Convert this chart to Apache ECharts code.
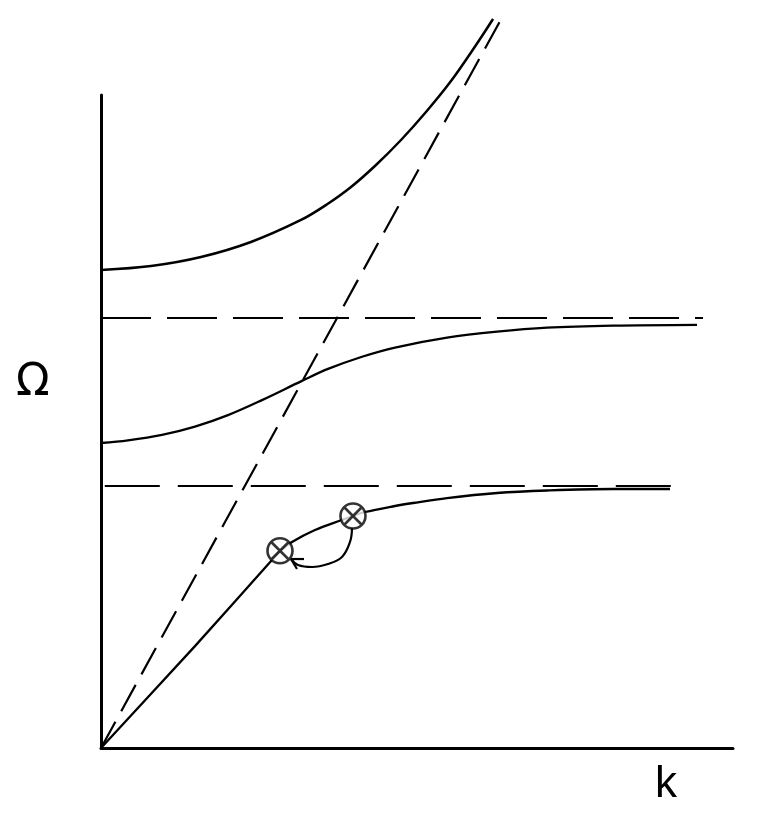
<!DOCTYPE html>
<html>
<head>
<meta charset="utf-8">
<script src="https://cdn.jsdelivr.net/npm/echarts@6/dist/echarts.min.js"></script>
<style>html,body{margin:0;padding:0;background:#fff}#c{width:757px;height:818px}</style>
</head>
<body>
<div id="c"></div>
<script>
// Dispersion branches (k, Omega) in arbitrary units
const upperBranch = [[0,7.32],[0.791,7.381],[1.582,7.519],[2.373,7.749],[3.165,8.086],[3.56,8.315],[3.956,8.591],[4.351,8.928],[4.747,9.311],[5.142,9.74],[5.538,10.214],[5.934,10.766],[6.203,11.164]];
const middleBranch = [[0,4.671],[0.427,4.712],[0.965,4.795],[1.487,4.922],[2.009,5.098],[2.547,5.328],[3.18,5.622],[3.592,5.805],[4.13,5.992],[4.652,6.133],[5.475,6.285],[6.266,6.377],[7.057,6.438],[8.101,6.469],[9.43,6.481]];
const lowerBranchLow = [[0,0],[1.487,1.56],[2.832,3.017]];
const lowerBranchHigh = [[2.832,3.017],[3.022,3.155],[3.386,3.338],[3.813,3.492],[3.987,3.553],[4.177,3.614],[4.652,3.706],[4.937,3.752],[5.475,3.828],[6.266,3.905],[7.057,3.943],[8.101,3.966],[9.003,3.966]];
const lightLine = [[0,0],[6.392,11.27]];
const upperLevel = [[0,6.585],[9.525,6.585]];
const lowerLevel = [[0.06,4.012],[9.209,4.012]];
const scatterPoints = [[2.832,3.02],[3.987,3.553]];
const returnArc = [[3.972,3.369],[3.94,3.155],[3.813,2.925],[3.592,2.818],[3.339,2.772],[3.117,2.802],[3.006,2.894]];
const arrowBarbA = [[3.006,2.894],[3.212,2.894]];
const arrowBarbB = [[3.006,2.894],[3.101,2.741]];
const xLabel = 'k';
const yLabel = 'Ω';

const chart = echarts.init(document.getElementById('c'));
const solid = (data, w, smooth) => ({type:'line', data, showSymbol:false, smooth: smooth, clip:false, silent:true,
  lineStyle:{color:'#000', width:w}, z:3});
const dashed = (data, w, pattern) => ({type:'line', data, showSymbol:false, clip:false, silent:true,
  lineStyle:{color:'#000', width:w, type:pattern}, z:2});
const crossCircle = 'path://M0,-10A10,10,0,1,1,0,10A10,10,0,1,1,0,-10Z M-7,-7L7,7M7,-7L-7,7';
chart.setOption({
  animation:false,
  backgroundColor:'#fff',
  grid:{left:101, top:95, right:24, bottom:70},
  xAxis:{type:'value', min:0, max:10, axisLine:{show:true, lineStyle:{color:'#000', width:3}}, axisTick:{show:false}, axisLabel:{show:false}, splitLine:{show:false}},
  yAxis:{type:'value', min:0, max:10, axisLine:{show:true, lineStyle:{color:'#000', width:3}}, axisTick:{show:false}, axisLabel:{show:false}, splitLine:{show:false}},
  series:[
    solid(upperBranch, 2.5, 0.35),
    solid(middleBranch, 2.3, 0.35),
    solid(lowerBranchLow, 2.3, 0.2),
    solid(lowerBranchHigh, 2.3, 0.35),
    dashed(lightLine, 2.2, [30,12]),
    dashed(upperLevel, 2.2, [50,16]),
    dashed(lowerLevel, 2.2, [55,18]),
    solid(returnArc, 2.2, 0.4),
    solid(arrowBarbA, 2.2, false),
    solid(arrowBarbB, 2.2, false),
    {type:'scatter', data:scatterPoints, symbol:crossCircle, symbolSize:25, silent:true, z:5,
     itemStyle:{color:'#fff', borderColor:'#000', borderWidth:2.6}}
  ],
  graphic:[
    {type:'text', left:16, top:362, style:{text:yLabel, font:'44px "DejaVu Sans"', fill:'#000'}},
    {type:'text', left:655, top:763, style:{text:xLabel, font:'44px "Liberation Sans"', fill:'#000'}}
  ]
});
</script>
</body>
</html>
